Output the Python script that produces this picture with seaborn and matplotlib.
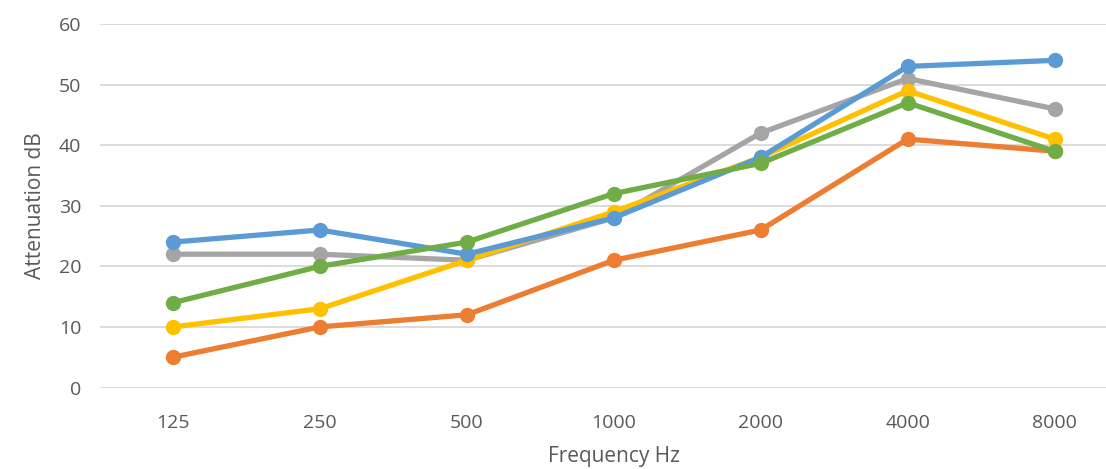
import pandas as pd
import seaborn as sns
import matplotlib.pyplot as plt

freqs = ['125', '250', '500', '1000', '2000', '4000', '8000']
blue = [24, 26, 22, 28, 38, 53, 54]
orange = [5, 10, 12, 21, 26, 41, 39]
gray = [22, 22, 21, 28, 42, 51, 46]
yellow = [10, 13, 21, 29, 38, 49, 41]
green = [14, 20, 24, 32, 37, 47, 39]

series = {'orange': orange, 'gray': gray, 'yellow': yellow, 'blue': blue, 'green': green}
colors = {'blue': '#5B9BD5', 'orange': '#ED7D31', 'gray': '#A5A5A5',
          'yellow': '#FFC000', 'green': '#70AD47'}

rows = []
for name, vals in series.items():
    for f, v in zip(freqs, vals):
        rows.append({'freq': f, 'att': v, 'series': name})
df = pd.DataFrame(rows)

sns.set_style('white')
plt.rcParams['font.family'] = ['Open Sans', 'DejaVu Sans']

fig = plt.figure(figsize=(11.06, 4.69), dpi=100)
# plot area runs past the right edge, as in the reference
ax = fig.add_axes([99.5 / 1106, 1 - 387.5 / 469, (1128 - 99.5) / 1106, (387.5 - 24) / 469])

sns.lineplot(data=df, x='freq', y='att', hue='series', palette=colors, sort=False,
             marker='o', markersize=11, markeredgewidth=0, linewidth=3.8,
             legend=False, ax=ax)

ax.set_xlim(-0.5, 6.5)
ax.set_ylim(0, 60)
ax.set_yticks(range(0, 61, 10))
ax.grid(axis='y', color='#D9D9D9', linewidth=1.3)
ax.set_axisbelow(True)
for s in ax.spines.values():
    s.set_visible(False)
ax.tick_params(length=0, labelsize=14, labelcolor='#595959')
ax.tick_params(axis='y', pad=13)
ax.tick_params(axis='x', pad=19)
ax.set_xlabel('Frequency Hz', fontsize=15, color='#595959', labelpad=10)
ax.set_ylabel('Attenuation dB', fontsize=15, color='#595959', labelpad=9)

fig.savefig('out.png', dpi=100)
